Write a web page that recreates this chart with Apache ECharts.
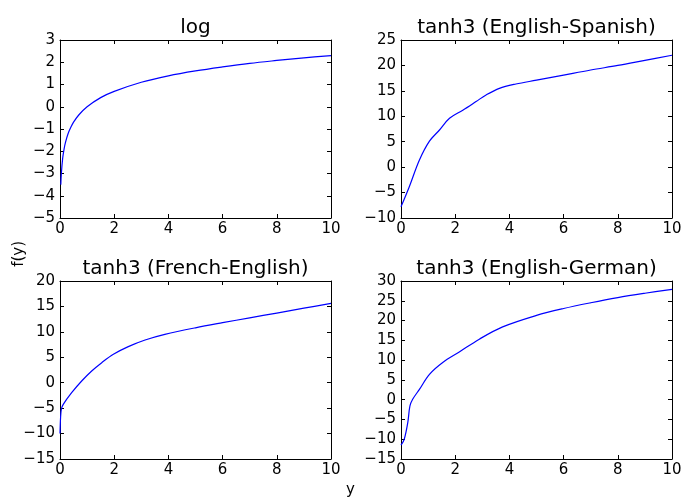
<!DOCTYPE html>
<html>
<head>
<meta charset="utf-8">
<script src="https://cdn.jsdelivr.net/npm/echarts@6/dist/echarts.min.js"></script>
<style>
  html, body { margin: 0; padding: 0; background: #fff; }
  #main { width: 700px; height: 500px; }
</style>
</head>
<body>
<div id="main"></div>
<script>
  // values
  var titles = ['log', 'tanh3 (English-Spanish)', 'tanh3 (French-English)', 'tanh3 (English-German)'];
  var xTicks = [0, 10, 2];

  var logX = [0.03, 0.05, 0.1, 0.15, 0.2, 0.3, 0.4, 0.5, 0.7, 1, 1.5, 2, 3, 4, 5, 6, 7, 8, 9, 10];
  var logY = [-3.5, -3.0, -2.3, -1.9, -1.61, -1.2, -0.92, -0.69, -0.36, 0, 0.41, 0.69, 1.1, 1.39, 1.61, 1.79, 1.95, 2.08, 2.2, 2.3];

  var esX = [0, 0.31, 0.68, 1.05, 1.42, 1.79, 2.28, 2.77, 3.14, 3.63, 4.24, 5, 6, 7, 8, 9, 10];
  var esY = [-7.8, -3.8, 1.4, 5.1, 7.3, 9.6, 11.2, 12.9, 14.2, 15.5, 16.35, 17.1, 18.1, 19.1, 20.0, 21.0, 22.0];

  var frX = [0, 0.02, 0.05, 0.12, 0.43, 0.8, 1.17, 1.54, 1.97, 2.52, 3.14, 3.87, 5, 6, 7, 8, 9, 10];
  var frY = [-10, -7, -5.2, -4.25, -1.96, 0.34, 2.3, 3.94, 5.6, 7.1, 8.4, 9.5, 10.8, 11.8, 12.75, 13.7, 14.65, 15.6];

  var deX = [0, 0.12, 0.25, 0.33, 0.43, 0.68, 1.05, 1.54, 2.15, 2.89, 3.75, 5, 6, 7, 8, 9, 10];
  var deY = [-11.5, -10, -5.8, -1.6, 0.1, 2.6, 6.4, 9.4, 12.05, 15.3, 18.4, 21.3, 23.05, 24.5, 25.8, 26.9, 27.9];

  // [min, max, interval] of each y axis
  var yTicks = [[-5, 3, 1], [-10, 25, 5], [-15, 20, 5], [-15, 30, 5]];

  var seriesX = [logX, esX, frX, deX];
  var seriesY = [logY, esY, frY, deY];

  var font = 'DejaVu Sans';
  var grids = [
    {left: 60, top: 40, width: 271, height: 178},
    {left: 401, top: 40, width: 271, height: 178},
    {left: 60, top: 281, width: 271, height: 178},
    {left: 401, top: 281, width: 271, height: 178}
  ];

  function fmt(v) {
    return v < 0 ? '\u2212' + Math.abs(v) : String(v);
  }

  var lineStyle = {color: '#000', width: 1};
  var tick = {show: true, inside: true, length: 4, lineStyle: {color: '#000', width: 1}};

  var xAxes = [], yAxes = [], series = [], titleList = [];
  for (var i = 0; i < 4; i++) {
    var g = grids[i];
    // bottom + top x axes, left + right y axes (ticks on all sides)
    xAxes.push({
      type: 'value', gridIndex: i, position: 'bottom',
      min: xTicks[0], max: xTicks[1], interval: xTicks[2],
      axisLine: {show: true, onZero: false, lineStyle: lineStyle},
      axisTick: tick, splitLine: {show: false},
      axisLabel: {color: '#000', fontFamily: font, fontSize: 15, margin: 4, formatter: fmt}
    });
    xAxes.push({
      type: 'value', gridIndex: i, position: 'top',
      min: xTicks[0], max: xTicks[1], interval: xTicks[2],
      axisLine: {show: true, onZero: false, lineStyle: lineStyle},
      axisTick: tick, splitLine: {show: false}, axisLabel: {show: false}
    });
    var yt = yTicks[i];
    yAxes.push({
      type: 'value', gridIndex: i, position: 'left',
      min: yt[0], max: yt[1], interval: yt[2],
      axisLine: {show: true, onZero: false, lineStyle: lineStyle},
      axisTick: tick, splitLine: {show: false},
      axisLabel: {color: '#000', fontFamily: font, fontSize: 15, margin: 5, formatter: fmt}
    });
    yAxes.push({
      type: 'value', gridIndex: i, position: 'right',
      min: yt[0], max: yt[1], interval: yt[2],
      axisLine: {show: true, onZero: false, lineStyle: lineStyle},
      axisTick: tick, splitLine: {show: false}, axisLabel: {show: false}
    });

    var pts = [];
    for (var k = 0; k < seriesX[i].length; k++) {
      pts.push([seriesX[i][k], seriesY[i][k]]);
    }
    series.push({
      type: 'line', xAxisIndex: i * 2, yAxisIndex: i * 2,
      data: pts, showSymbol: false, smooth: 0.35,
      lineStyle: {color: '#0000ff', width: 1.2}, silent: true
    });

    titleList.push({
      text: titles[i],
      left: g.left + g.width / 2 - 5,
      top: g.top - 27,
      textAlign: 'center',
      textStyle: {fontFamily: font, fontSize: 20, fontWeight: 'normal', color: '#000'}
    });
  }

  var myChart = echarts.init(document.getElementById('main'));
  myChart.setOption({
    animation: false,
    backgroundColor: '#fff',
    title: titleList,
    grid: grids,
    xAxis: xAxes,
    yAxis: yAxes,
    series: series,
    graphic: [
      {type: 'text', left: 12, top: 241, rotation: Math.PI / 2,
        style: {text: 'f(y)', font: '15px "DejaVu Sans"', fill: '#000'}},
      {type: 'text', left: 346, top: 483,
        style: {text: 'y', font: '15px "DejaVu Sans"', fill: '#000'}}
    ]
  });
</script>
</body>
</html>
